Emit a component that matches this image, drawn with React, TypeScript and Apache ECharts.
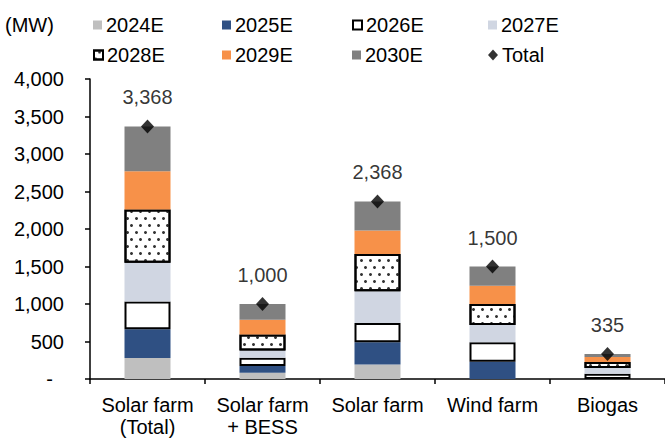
import React, { useEffect, useRef } from "react";
import * as echarts from "echarts";

const categories = ["Solar farm\n(Total)", "Solar farm\n+ BESS", "Solar farm", "Wind farm", "Biogas"];
const seriesNames = ["2024E", "2025E", "2026E", "2027E", "2028E", "2029E", "2030E"];
const v2024 = [280, 85, 195, 0, 0];
const v2025 = [385, 90, 295, 230, 0];
const v2026 = [368, 110, 258, 260, 70];
const v2027 = [518, 95, 423, 230, 78];
const v2028 = [710, 215, 495, 280, 80];
const v2029 = [508, 195, 313, 245, 67];
const v2030 = [599, 210, 389, 255, 40];
const totals = [3368, 1000, 2368, 1500, 335];
const yTicks = [0, 500, 1000, 1500, 2000, 2500, 3000, 3500, 4000];

const FONT = "'Liberation Sans', Arial, sans-serif";
const FS = 20;

export default function App() {
  const ref = useRef<HTMLDivElement>(null);
  useEffect(() => {
    if (!ref.current) return;
    const chart = echarts.init(ref.current, undefined, { renderer: "svg" });
    const values = [v2024, v2025, v2026, v2027, v2028, v2029, v2030];
    const dotDecal = {
      symbol: "circle",
      symbolSize: 1,
      color: "#333333",
      dashArrayX: [[2.4, 5.6], [0, 4, 2.4, 1.6]],
      dashArrayY: [2.4, 3.2],
      rotation: 0,
    };
    const styles: any[] = [
      { color: "#BFBFBF" },
      { color: "#2F5083" },
      { color: "#FFFFFF", borderColor: "#000", borderWidth: 2 },
      { color: "#D0D6E2" },
      { color: "#FFFFFF", borderColor: "#000", borderWidth: 2, decal: dotDecal },
      { color: "#F79149" },
      { color: "#808080" },
    ];
    const barSeries = seriesNames.map((name, i) => ({
      name,
      type: "bar",
      stack: "total",
      barWidth: 46,
      data: values[i],
      itemStyle: styles[i],
      emphasis: { disabled: true },
    }));
    const legendPos = [
      [93, 15], [222, 15], [352, 15], [488, 15],
      [93, 45], [222, 45], [352, 45], [488, 45],
    ];
    const legendNames = [...seriesNames, "Total"];
    const legends = legendNames.map((n, i) => ({
      data: [n],
      left: legendPos[i][0],
      top: legendPos[i][1],
      padding: 0,
      itemWidth: n === "Total" ? 10 : 9,
      itemHeight: n === "Total" ? 11 : 9,
      icon: n === "Total" ? "diamond" : "rect",
      textStyle: { fontFamily: FONT, fontSize: FS, color: "#000", padding: [0, 0, 0, -1] },
      selectedMode: false,
      itemStyle:
        n === "2026E" || n === "2028E" ? { borderColor: "#000", borderWidth: 2 } : { borderWidth: 0 },
    }));
    chart.setOption({
      animation: false,
      textStyle: { fontFamily: FONT },
      title: {
        text: "(MW)",
        left: 5,
        top: 15,
        padding: 0,
        textStyle: { fontFamily: FONT, fontSize: FS, fontWeight: "normal", color: "#000" },
      },
      legend: legends,
      grid: { left: 90, right: 0, top: 79, bottom: 63, containLabel: false },
      xAxis: {
        type: "category",
        data: categories,
        boundaryGap: true,
        axisLine: { show: true, lineStyle: { color: "#000", width: 1.5 } },
        axisTick: { show: true, interval: 0, length: 5, lineStyle: { color: "#000", width: 1.5 } },
        axisLabel: { interval: 0, fontSize: FS, color: "#000", lineHeight: 22, margin: 15, fontFamily: FONT },
      },
      yAxis: {
        type: "value",
        min: yTicks[0],
        max: yTicks[yTicks.length - 1],
        interval: 500,
        splitLine: { show: false },
        axisLine: { show: true, lineStyle: { color: "#000", width: 1.5 } },
        axisTick: { show: true, length: 5, lineStyle: { color: "#000", width: 1.5 } },
        axisLabel: {
          margin: 26,
          fontSize: FS,
          color: "#000",
          fontFamily: FONT,
          formatter: (v: number) => (v === 0 ? "{d|-}" : v.toLocaleString("en-US")),
          rich: { d: { fontSize: FS, color: "#000", padding: [0, 11, 0, 0], fontFamily: FONT } },
        },
      },
      series: [
        ...barSeries,
        {
          name: "Total",
          type: "scatter",
          symbol: "diamond",
          symbolSize: [13, 14],
          data: totals,
          itemStyle: { color: "#000" },
          z: 5,
          label: {
            show: true,
            position: "top",
            distance: 12,
            fontSize: FS,
            color: "#000",
            fontFamily: FONT,
            formatter: (p: any) => Number(p.value).toLocaleString("en-US"),
          },
          emphasis: { disabled: true },
        },
      ],
    });
    return () => chart.dispose();
  }, []);
  return <div ref={ref} style={{ position: "absolute", left: 0, top: 0, width: 665, height: 442 }} />;
}
